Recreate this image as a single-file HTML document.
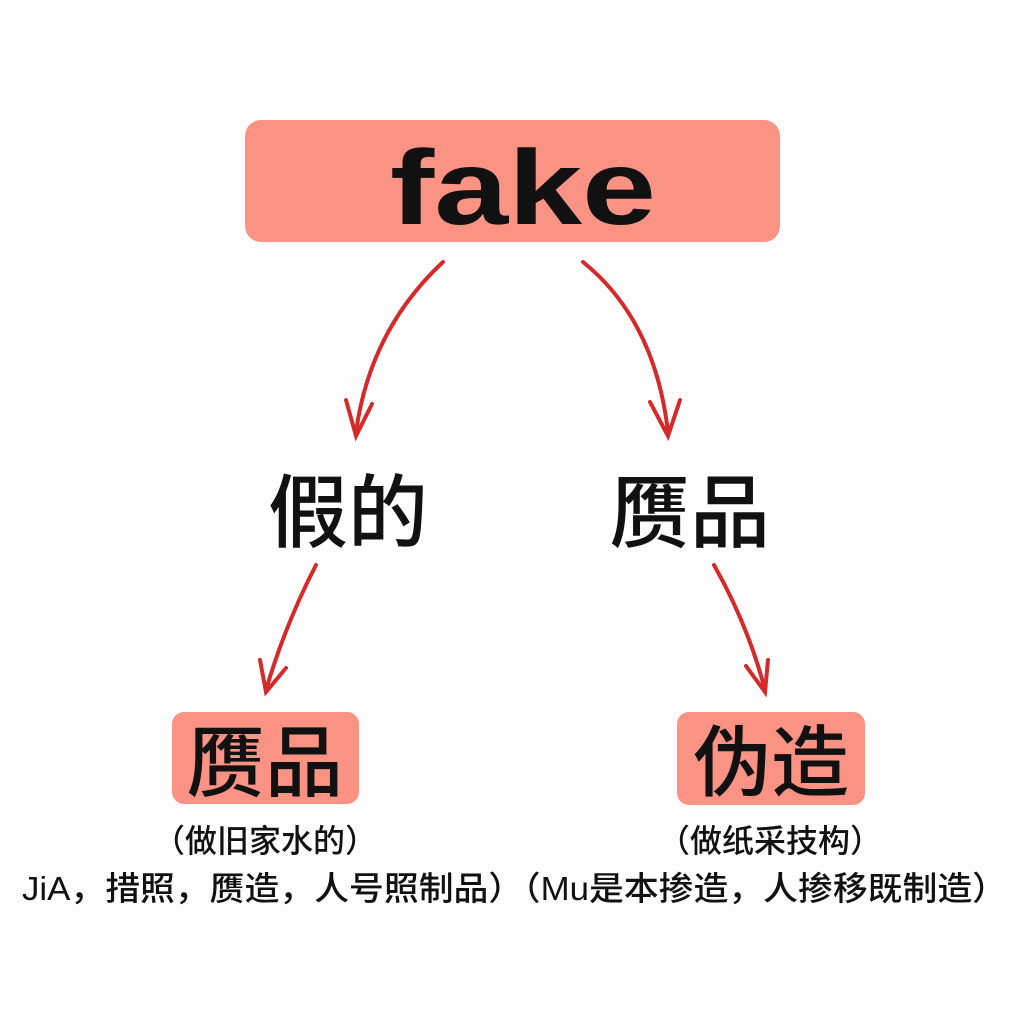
<!DOCTYPE html>
<html><head><meta charset="utf-8"><style>
html,body{margin:0;padding:0;background:#fff;}
svg{display:block}
text{font-family:"Liberation Sans","Noto Sans CJK SC",sans-serif;fill:#111;}
</style></head><body>
<svg width="1024" height="1024" viewBox="0 0 1024 1024" xmlns="http://www.w3.org/2000/svg">
<rect width="1024" height="1024" fill="#fdfdfd"/>
<rect x="245" y="120" width="535" height="122" rx="16" fill="#fb9384"/>
<text x="390" y="224" font-size="106" font-weight="bold" textLength="266" lengthAdjust="spacingAndGlyphs">fake</text>
<g stroke="#d42a2a" stroke-width="4" fill="none" stroke-linecap="round">
<path d="M443 262 Q370 330 356 432"/>
<path d="M346 400 L356 436 L372 404"/>
<path d="M583 262 Q655 320 668 432"/>
<path d="M650 402 L668 436 L680 400"/>
<path d="M316 565 Q285 625 266 690"/>
<path d="M260 660 L266 692 L286 668"/>
<path d="M714 565 Q748 625 765 690"/>
<path d="M746 666 L765 692 L768 660"/>
</g>
<text x="348" y="541" font-size="80" font-weight="500" text-anchor="middle">假的</text>
<text x="690" y="541" font-size="80" font-weight="500" text-anchor="middle">赝品</text>
<rect x="172" y="712" width="187" height="92" rx="12" fill="#fb9384"/>
<rect x="677" y="712" width="188" height="93" rx="12" fill="#fb9384"/>
<text x="265" y="790" font-size="78" font-weight="500" text-anchor="middle">赝品</text>
<text x="771" y="790" font-size="78" font-weight="500" text-anchor="middle">伪造</text>
<text x="265" y="852" font-size="32" font-weight="500" text-anchor="middle">（做旧家水的）</text>
<text x="770" y="852" font-size="32" font-weight="500" text-anchor="middle">（做纸采技构）</text>
<text x="22" y="900" font-size="33" font-weight="500" textLength="985" lengthAdjust="spacingAndGlyphs">JiA，措照，赝造，人号照制品）（Mu是本掺造，人掺移既制造）</text>
</svg>
</body></html>
